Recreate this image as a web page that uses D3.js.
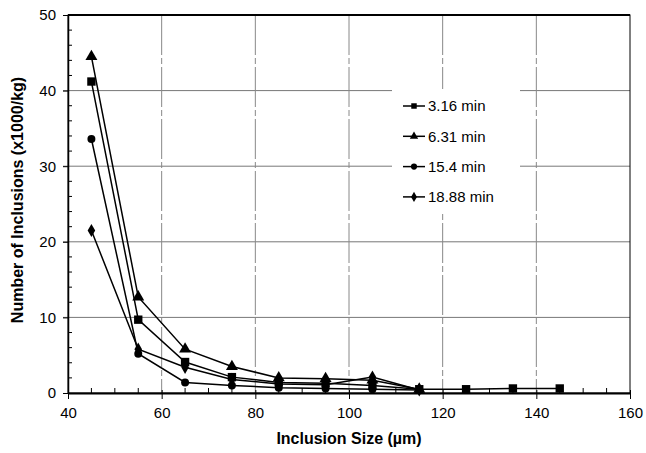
<!DOCTYPE html>
<html>
<head>
<meta charset="utf-8">
<script src="https://cdn.jsdelivr.net/npm/d3@7"></script>
<style>
  html, body { margin: 0; padding: 0; background: #fff; }
  svg { display: block; font-family: Arial, "Liberation Sans", sans-serif; }
</style>
</head>
<body>
<svg id="chart" width="646" height="453"></svg>
<script>
// Inclusion size classes (µm)
const sizes = [45, 55, 65, 75, 85, 95, 105, 115, 125, 135, 145];

// Inclusion counts (x1000/kg) per holding time
const min316 = [41.2, 9.7, 4.1, 2.1, 1.4, 1.3, 1.0, 0.5, 0.5, 0.6, 0.6];
const min631 = [44.5, 12.7, 5.8, 3.5, 2.0, 1.9, 1.7, 0.5];
const min154 = [33.6, 5.2, 1.4, 1.0, 0.7, 0.6, 0.5, 0.4];
const min1888 = [21.5, 5.8, 3.4, 1.8, 1.2, 1.1, 2.1, 0.4];

const seriesNames = ["3.16 min", "6.31 min", "15.4 min", "18.88 min"];
const seriesSymbols = [d3.symbolSquare, d3.symbolTriangle, d3.symbolCircle, d3.symbolDiamond];
const seriesValues = [min316, min631, min154, min1888];

const xTicks = [40, 60, 80, 100, 120, 140, 160];
const yTicks = [0, 10, 20, 30, 40, 50];

const svg = d3.select("#chart");
const margin = { left: 68, top: 15, right: 16, bottom: 60 };
const W = 646, H = 453;
const x = d3.scaleLinear().domain([40, 160]).range([margin.left, W - margin.right]);
const y = d3.scaleLinear().domain([0, 50]).range([H - margin.bottom, margin.top]);

// grid
const grid = svg.append("g");
grid.selectAll("line.h").data(yTicks.filter(v => v > 0 && v < 50)).join("line")
  .attr("x1", x(40) - 5).attr("x2", x(160))
  .attr("y1", d => y(d)).attr("y2", d => y(d))
  .attr("stroke", "#777").attr("stroke-width", 1);
grid.selectAll("line.v").data(xTicks.filter(v => v > 40 && v < 160)).join("line")
  .attr("x1", d => x(d)).attr("x2", d => x(d))
  .attr("y1", y(50)).attr("y2", y(0))
  .attr("stroke", "#888").attr("stroke-width", 1)
  .attr("stroke-dasharray", "40,3,6,3");

// legend background hides grid behind it
svg.append("rect").attr("x", 392).attr("y", 89).attr("width", 128).attr("height", 124).attr("fill", "#fff");

// frame
svg.append("rect")
  .attr("x", x(40)).attr("y", y(50))
  .attr("width", x(160) - x(40)).attr("height", y(0) - y(50))
  .attr("fill", "none").attr("stroke", "#000").attr("stroke-width", 1);
svg.append("line").attr("x1", x(40)).attr("x2", x(160)).attr("y1", y(50)).attr("y2", y(50))
  .attr("stroke", "#000").attr("stroke-width", 2);

// axes
const xAxis = d3.axisBottom(x).tickValues(xTicks).tickSize(6).tickSizeOuter(0).tickPadding(8);
const gx = svg.append("g").attr("transform", `translate(0,${y(0)})`).call(xAxis);
gx.select(".domain").attr("stroke-width", 2);
gx.selectAll("text").attr("font-size", 15).attr("fill", "#000").attr("font-family", "Arial, 'Liberation Sans', sans-serif");
gx.selectAll(".tick line").attr("y1", -3);
// minor x ticks
svg.append("g").selectAll("line").data(d3.range(45, 160, 5).filter(v => v % 20 !== 0)).join("line")
  .attr("x1", d => x(d)).attr("x2", d => x(d))
  .attr("y1", y(0)).attr("y2", y(0) - 5).attr("stroke", "#000");

const yAxis = d3.axisLeft(y).tickValues(yTicks).tickSize(5).tickSizeOuter(0).tickPadding(7);
const gy = svg.append("g").attr("transform", `translate(${x(40)},0)`).call(yAxis);
gy.select(".domain").attr("stroke-width", 1.5);
gy.selectAll("text").attr("font-size", 15).attr("fill", "#000").attr("font-family", "Arial, 'Liberation Sans', sans-serif");
// minor y ticks
svg.append("g").selectAll("line").data(d3.range(2, 50, 2).filter(v => v % 10 !== 0)).join("line")
  .attr("x1", x(40)).attr("x2", x(40) + 4)
  .attr("y1", d => y(d)).attr("y2", d => y(d)).attr("stroke", "#000");

// series (first series drawn last so it sits on top)
const line = d3.line().x(d => x(d[0])).y(d => y(d[1]));
const order = [3, 2, 1, 0];
order.forEach(i => {
  const pts = seriesValues[i].map((v, k) => [sizes[k], v]);
  const g = svg.append("g");
  g.append("path").attr("d", line(pts)).attr("fill", "none").attr("stroke", "#000").attr("stroke-width", 1.5);
  const sym = d3.symbol().type(seriesSymbols[i]).size(i === 0 ? 70 : i === 1 ? 62 : 50);
  g.selectAll("path.m").data(pts).join("path")
    .attr("transform", d => `translate(${x(d[0])},${y(d[1])})`)
    .attr("d", sym).attr("fill", "#000");
});

// legend
const lg = svg.append("g");
seriesNames.forEach((name, i) => {
  const yy = 106 + i * 30.3;
  lg.append("line").attr("x1", 403).attr("x2", 425).attr("y1", yy).attr("y2", yy)
    .attr("stroke", "#000").attr("stroke-width", 1.5);
  lg.append("path").attr("transform", `translate(414,${yy})`)
    .attr("d", d3.symbol().type(seriesSymbols[i]).size(30)).attr("fill", "#000");
  lg.append("text").attr("x", 428).attr("y", yy).attr("dy", "0.36em")
    .attr("font-size", 15).text(name);
});

// axis titles
svg.append("text").attr("x", x(100)).attr("y", 444)
  .attr("text-anchor", "middle").attr("font-size", 16).attr("font-weight", "bold")
  .text("Inclusion Size (µm)");
svg.append("text").attr("transform", `translate(23,${(y(0) + y(50)) / 2 - 4}) rotate(-90)`)
  .attr("text-anchor", "middle").attr("font-size", 16).attr("font-weight", "bold")
  .text("Number of Inclusions (x1000/kg)");
</script>
</body>
</html>
